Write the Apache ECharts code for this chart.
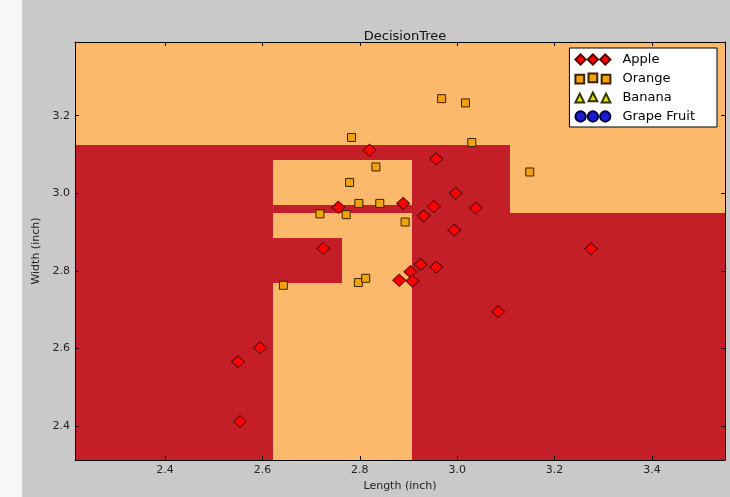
<!DOCTYPE html>
<html>
<head>
<meta charset="utf-8">
<script src="https://cdn.jsdelivr.net/npm/echarts@6/dist/echarts.min.js"></script>
<style>
  html, body { margin: 0; padding: 0; background: #ffffff; }
  #wrap { position: absolute; left: 0; top: 0; width: 730px; height: 497px; }
  #chart { width: 730px; height: 497px; }
</style>
</head>
<body>
<div id="wrap"><div id="chart"></div></div>
<script>
// ---- Data ----
const titleText = 'DecisionTree';
const xLabel = 'Length (inch)';
const yLabel = 'Width (inch)';
const xRange = [2.215, 3.55];
const yRange = [2.3125, 3.39];
const xTicks = [2.4, 2.6, 2.8, 3.0, 3.2, 3.4];
const yTicks = [2.4, 2.6, 2.8, 3.0, 3.2];
const classNames = ['Apple', 'Orange', 'Banana', 'Grape Fruit'];

// decision regions: [x0, x1, y0, y1, classIndex]
const regions = [
  [2.215, 3.55, 2.3125, 3.39, 0],
  [2.215, 3.1077, 3.1254, 3.39, 1],
  [3.1077, 3.55, 2.9505, 3.39, 1],
  [2.6215, 2.9067, 2.971, 3.0868, 1],
  [2.6215, 2.9067, 2.3125, 2.9505, 1],
  [2.6215, 2.763, 2.770, 2.886, 0]
];

const appleX = [2.820, 2.957, 2.997, 2.756, 2.889, 2.952, 2.931, 3.038, 2.994, 2.725,
                2.881, 2.904, 2.925, 2.957, 2.908, 2.595, 2.550, 2.554, 3.275, 3.084];
const appleY = [3.111, 3.089, 3.000, 2.964, 2.974, 2.966, 2.942, 2.962, 2.905, 2.858,
                2.776, 2.798, 2.817, 2.810, 2.774, 2.602, 2.566, 2.412, 2.857, 2.695];

const orangeX = [2.968, 3.017, 2.783, 3.030, 2.833, 2.779, 2.798, 2.841, 2.718, 2.772,
                 2.893, 3.149, 2.643, 2.797, 2.812];
const orangeY = [3.244, 3.233, 3.144, 3.131, 3.068, 3.028, 2.974, 2.974, 2.947, 2.945,
                 2.926, 3.055, 2.763, 2.770, 2.781];

const bananaX = [];
const bananaY = [];
const grapeX = [];
const grapeY = [];

// ---- Styles ----
const regionColors = ['#c41f28', '#fdb96b'];
const font = 'DejaVu Sans';

function zip(xs, ys) { return xs.map((x, i) => [x, ys[i]]); }

const icons = {
  diamond: 'path://M0,5L5,0L10,5L5,10Z M12,5L17,0L22,5L17,10Z M24,5L29,0L34,5L29,10Z',
  square: 'path://M1,1H9V9H1Z M13,0H21V8H13Z M25,1H33V9H25Z',
  triangle: 'path://M1,10L5,2L9,10Z M13,9L17,1L21,9Z M25,10L29,2L33,10Z',
  circle: 'path://M0,5a5,5 0 1,0 10,0a5,5 0 1,0 -10,0Z M12,5a5,5 0 1,0 10,0a5,5 0 1,0 -10,0Z M24,5a5,5 0 1,0 10,0a5,5 0 1,0 -10,0Z'
};

const chart = echarts.init(document.getElementById('chart'), null, { renderer: 'canvas' });

const axisCommon = {
  type: 'value',
  z: 10,
  axisLine: { show: true, onZero: false, lineStyle: { color: '#000', width: 1 } },
  splitLine: { show: false },
  axisTick: { inside: true, length: 4, lineStyle: { color: '#000' } },
  axisLabel: { color: '#222', fontFamily: font, fontSize: 11 }
};

chart.setOption({
  backgroundColor: '#c9c9c9',
  animation: false,
  graphic: [{
    type: 'rect', left: 0, top: 0, z: -10, silent: true,
    shape: { width: 22, height: 497 },
    style: { fill: '#f7f7f7' }
  }],
  title: {
    text: titleText,
    left: 400, textAlign: 'center',
    top: 25,
    textStyle: { fontFamily: font, fontSize: 13, fontWeight: 'normal', color: '#111' }
  },
  grid: { left: 75, right: 5, top: 42, bottom: 36, containLabel: false },
  legend: {
    orient: 'vertical',
    right: 13, top: 48,
    z: 20,
    backgroundColor: '#ffffff',
    borderColor: '#000',
    borderWidth: 1,
    padding: [5, 22, 4, 5],
    itemGap: 6,
    itemWidth: 35,
    itemHeight: 11,
    textStyle: { fontFamily: font, fontSize: 13, color: '#000', padding: [0, 0, 0, 7] },
    data: [
      { name: classNames[0], icon: icons.diamond },
      { name: classNames[1], icon: icons.square },
      { name: classNames[2], icon: icons.triangle },
      { name: classNames[3], icon: icons.circle }
    ]
  },
  xAxis: [
    Object.assign({}, axisCommon, {
      position: 'bottom', min: xRange[0], max: xRange[1],
      name: xLabel, nameLocation: 'middle', nameGap: 17,
      nameTextStyle: { fontFamily: font, fontSize: 11, color: '#222' },
      axisTick: { inside: true, length: 4, customValues: xTicks, lineStyle: { color: '#000' } },
      axisLabel: { color: '#222', fontFamily: font, fontSize: 11, margin: 5, customValues: xTicks,
                   formatter: v => v.toFixed(1) }
    }),
    Object.assign({}, axisCommon, {
      position: 'top', min: xRange[0], max: xRange[1],
      axisTick: { inside: true, length: 4, customValues: xTicks, lineStyle: { color: '#000' } },
      axisLabel: { show: false }
    })
  ],
  yAxis: [
    Object.assign({}, axisCommon, {
      position: 'left', min: yRange[0], max: yRange[1],
      name: yLabel, nameLocation: 'middle', nameGap: 32, nameRotate: 90,
      nameTextStyle: { fontFamily: font, fontSize: 11, color: '#222' },
      axisTick: { inside: true, length: 4, customValues: yTicks, lineStyle: { color: '#000' } },
      axisLabel: { color: '#222', fontFamily: font, fontSize: 11, margin: 5, customValues: yTicks,
                   formatter: v => v.toFixed(1) }
    }),
    Object.assign({}, axisCommon, {
      position: 'right', min: yRange[0], max: yRange[1],
      axisTick: { inside: true, length: 4, customValues: yTicks, lineStyle: { color: '#000' } },
      axisLabel: { show: false }
    })
  ],
  series: [
    {
      type: 'custom',
      name: 'regions',
      clip: true,
      silent: true,
      z: 1,
      data: regions,
      renderItem: function (params, api) {
        const p0 = api.coord([api.value(0), api.value(3)]);
        const p1 = api.coord([api.value(1), api.value(2)]);
        const x0 = Math.round(p0[0]), y0 = Math.round(p0[1]);
        const x1 = Math.round(p1[0]), y1 = Math.round(p1[1]);
        return {
          type: 'rect',
          shape: { x: x0, y: y0, width: x1 - x0, height: y1 - y0 },
          style: { fill: regionColors[api.value(4)] }
        };
      }
    },
    {
      type: 'scatter', name: classNames[0], z: 3,
      symbol: 'diamond', symbolSize: [13, 12],
      itemStyle: { color: '#ff0000', borderColor: '#5a0000', borderWidth: 1, opacity: 1 },
      data: zip(appleX, appleY)
    },
    {
      type: 'scatter', name: classNames[1], z: 4,
      symbol: 'rect', symbolSize: 8,
      itemStyle: { color: '#f2a30c', borderColor: '#3a2200', borderWidth: 1, opacity: 1 },
      data: zip(orangeX, orangeY)
    },
    {
      type: 'scatter', name: classNames[2], z: 4,
      symbol: 'triangle', symbolSize: 9,
      itemStyle: { color: '#dde000', borderColor: '#333300', borderWidth: 1, opacity: 1 },
      data: zip(bananaX, bananaY)
    },
    {
      type: 'scatter', name: classNames[3], z: 4,
      symbol: 'circle', symbolSize: 9,
      itemStyle: { color: '#1a1ad8', borderColor: '#000033', borderWidth: 1, opacity: 1 },
      data: zip(grapeX, grapeY)
    }
  ]
});
</script>
</body>
</html>
